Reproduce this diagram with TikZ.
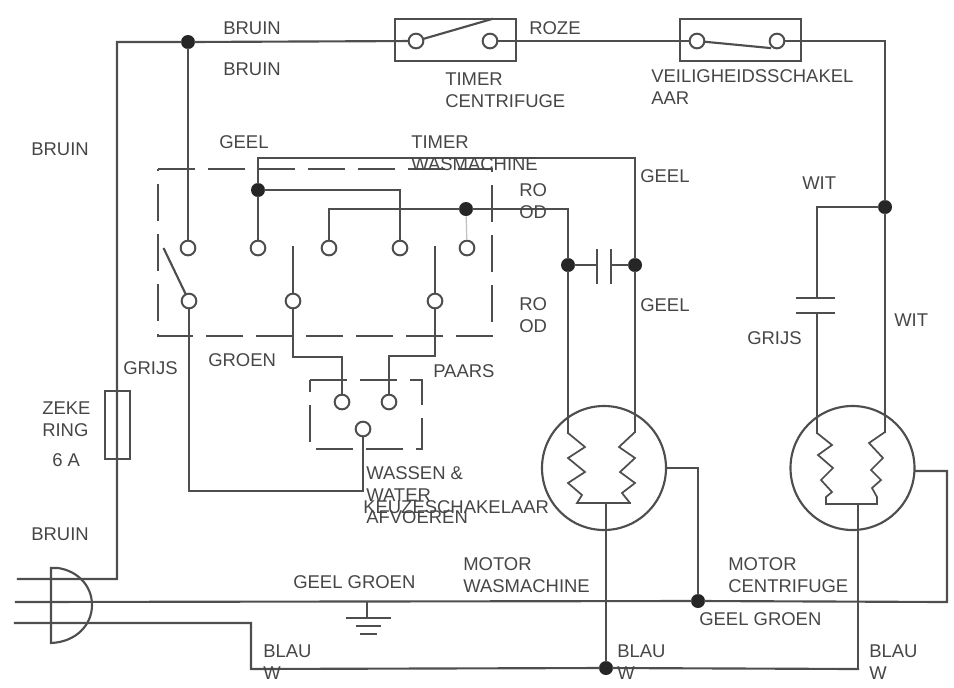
\documentclass[tikz,border=0pt]{standalone}
\usepackage{fontspec}
\setmainfont{Liberation Sans}
\usetikzlibrary{positioning}

\definecolor{wirecol}{RGB}{78,78,78}
\definecolor{labelcol}{RGB}{70,70,70}

\tikzset{
	wire/.style={draw=wirecol,line width=1.6pt,line cap=rect},
	dashbox/.style={draw=wirecol,line width=1.6pt,dash pattern=on 27.75pt off 9.75pt},
	term/.style={circle,draw=wirecol,line width=1.5pt,inner sep=0pt,minimum size=11pt},
	dot/.style={circle,fill=black!85,inner sep=0pt,minimum size=10.5pt},
	swbox/.style={rectangle,draw=wirecol,line width=1.6pt,inner sep=0pt,minimum width=91pt,minimum height=31.5pt},
	motor/.style={circle,draw=wirecol,line width=1.6pt,inner sep=0pt,minimum size=93pt},
	lab/.style={anchor=west,inner sep=0pt,text=labelcol,font=\fontsize{13.85}{16.5}\selectfont,align=left}
}

\begin{document}
\begin{tikzpicture}[x=0.75pt,y=-0.75pt]
		\useasboundingbox (0,0) rectangle (954,687);
		
		% boxes at the top
		\node[swbox] (timerbox) at (455.5,40) {};
		\node[swbox] (safebox) at (740.5,40) {};
		\node[term] (t1) at (416,41) {};
		\node[term] (t2) at (490,41) {};
		\node[term] (s1) at (697,41) {};
		\node[term] (s2) at (777,41) {};
		
		% joints
		\node[dot] (dtop) at (188,42) {};
		\node[dot] (dgeel) at (258,190) {};
		\node[dot] (drood) at (466,209) {};
		\node[dot] (dcapl) at (568,265) {};
		\node[dot] (dcapr) at (635,265) {};
		\node[dot] (dwit) at (885,207) {};
		\node[dot] (dearth) at (698,601) {};
		\node[dot] (dblauw) at (606,668) {};
		
		% timer contacts
		\node[term] (a) at (188,248) {};
		\node[term] (b) at (258,248) {};
		\node[term] (c) at (329,248) {};
		\node[term] (d) at (400,248) {};
		\node[term] (e) at (467,248) {};
		\node[term] (f) at (189,301) {};
		\node[term] (g) at (293,301) {};
		\node[term] (h) at (435,301) {};
		
		% selector contacts
		\node[term] (k1) at (342,402) {};
		\node[term] (k2) at (389,402) {};
		\node[term] (k3) at (363,429) {};
		
		\node[motor] (m1) at (604,468) {};
		\node[motor] (m2) at (852.5,468) {};
		\node[draw=wirecol,line width=1.5pt,inner sep=0pt,minimum width=18.5pt,minimum height=51pt] (fuse) at (117.5,425) {};
		
		% corners and free ends
		\coordinate (tl) at (117,42);
		\coordinate (lb) at (117,579);
		\coordinate (tr) at (885,41);
		\coordinate (m2tr) at (885,432);
		\coordinate (capw) at (817,207);
		\coordinate (capa) at (817,298);
		\coordinate (capb) at (817,313);
		\coordinate (m2tl) at (817,433);
		\coordinate (m1tl) at (568,433);
		\coordinate (m1tr) at (635,432);
		\coordinate (m1bl) at (577,503);
		\coordinate (m1br) at (630,503);
		\coordinate (m1bm) at (606,503);
		\coordinate (m2bl) at (826,504);
		\coordinate (m2br) at (877,504);
		\coordinate (m2bm) at (858,504);
		\coordinate (geelt) at (258,158);
		\coordinate (geelr) at (635,158);
		\coordinate (roodr) at (568,209);
		\coordinate (p1) at (18,579);
		\coordinate (p2) at (16,602);
		\coordinate (p3) at (15,623);
		\coordinate (p3b) at (251,623);
		\coordinate (blauwl) at (251,669);
		\coordinate (blauwr) at (858,669);
		\coordinate (earthr) at (947,602);
		\coordinate (m2lead) at (947,471);
		\coordinate (gnd) at (367,602);
		\coordinate (gnda) at (367,618);
		\coordinate (arma) at (164,249);
		\coordinate (armg) at (293,247);
		\coordinate (armh) at (435,247);
		\coordinate (armt) at (492,19);
		\coordinate (arms) at (770,48);
		\coordinate (capl) at (597,265);
		\coordinate (capr) at (611,265);
		\coordinate (kjoin) at (363,491);
		\coordinate (k1c) at (342,357);
		\coordinate (k2c) at (389,356);
		
		% mains and top line
		\draw[wire] (p1) -- (lb) -- (tl) -- (dtop) -- (t1);
		\draw[wire] (t2) -- (s1);
		\draw[wire] (s2) -- (tr) -- (dwit) -- (m2tr);
		\draw[wire] (t1) -- (armt);
		\draw[wire] (s1) -- (arms);
		\draw[wire] (dwit) -- (capw) -- (capa);
		\draw[wire] (capb) -- (m2tl);
		\draw[wire] (797,298) -- (834,298);
		\draw[wire] (797,313) -- (834,313);
		
		% timer wiring
		\draw[wire] (dtop) -- (a);
		\draw[wire] (b) -- (dgeel) -- (geelt) -- (geelr) -- (dcapr) -- (m1tr);
		\draw[wire] (dgeel) -| (d);
		\draw[wire] (c) |- (drood) -- (roodr) -- (dcapl) -- (m1tl);
		\draw[black!25,line width=0.9pt] (drood) -- (e);
		\draw[wire] (arma) -- (f);
		\draw[wire] (g) -- (armg);
		\draw[wire] (h) -- (armh);
		\draw[wire] (dcapl) -- (capl);
		\draw[wire] (dcapr) -- (capr);
		\draw[wire] (597,250) -- (597,283);
		\draw[wire] (611,250) -- (611,283);
		
		% selector wiring
		\draw[wire] (f) |- (kjoin) -- (k3);
		\draw[wire] (g) |- (k1c) -- (k1);
		\draw[wire] (h) |- (k2c) -- (k2);
		
		\draw[dashbox] (158,169) -- (492,169) -- (492,336) -- (158,336) -- cycle;
		\draw[dashbox] (310,380) -- (422,380) -- (422,449) -- (310,449) -- cycle;
		
		% motor coils
		\draw[wire,line width=1.3pt] (m1tl) -- (585,447) -- (568,458) -- (585,472) -- (568,483) -- (582,495) -- (m1bl) -- (m1br);
		\draw[wire,line width=1.3pt] (m1tr) -- (619,447) -- (635,458) -- (620,472) -- (635,483) -- (622,493) -- (m1br);
		\draw[wire,line width=1.3pt] (m2tl) -- (832,445) -- (818,455) -- (833,468) -- (821,480) -- (832,492) -- (826,497) -- (m2bl) -- (m2br);
		\draw[wire,line width=1.3pt] (m2tr) -- (869,443) -- (883,458) -- (871,470) -- (881,480) -- (872,488) -- (877,497) -- (m2br);
		\draw[wire] (m1bm) -- (dblauw);
		\draw[wire] (m2bm) -- (blauwr);
		\draw[wire] (m1.east) -| (dearth);
		\draw[wire] (m2lead -| m2.east) -- (m2lead) -- (earthr) -- (dearth);
		\draw[wire] (dearth) -- (p2);
		\draw[wire] (p3) -- (p3b) -- (blauwl) -- (dblauw) -- (blauwr);
		
		% plug and earth
		\draw[wire] (51,568) -- (58,568) .. controls (78,571) and (92,586) .. (92,605) .. controls (92,625) and (76,642) .. (51,643) -- cycle;
		\draw[wire] (gnd) -- (gnda);
		\draw[wire] (347,618) -- (390,618);
		\draw[wire] (357,626) -- (380,626);
		\draw[wire] (361,634) -- (376,634);
		
		% labels
		\node[lab] (lbruina) at (223,28) {BRUIN};
		\node[lab] (lbruinb) at (223,69) {BRUIN};
		\node[lab] (lbruinc) at (31,149) {BRUIN};
		\node[lab] (lbruind) at (31,534) {BRUIN};
		\node[lab] (lroze) at (529,28) {ROZE};
		\node[lab] (ltimerc) at (445,90) {TIMER\\CENTRIFUGE};
		\node[lab] (lveilig) at (651,87) {VEILIGHEIDSSCHAKEL\\AAR};
		\node[lab] (lgeela) at (219,142) {GEEL};
		\node[lab] (ltimerw) at (411,153) {TIMER\\WASMACHINE};
		\node[lab] (lgeelb) at (640,176) {GEEL};
		\node[lab] (lgeelc) at (640,305) {GEEL};
		\node[lab] (lrooda) at (519,201) {RO\\OD};
		\node[lab] (lroodb) at (519,315) {RO\\OD};
		\node[lab] (lwita) at (802,183) {WIT};
		\node[lab] (lwitb) at (894,320) {WIT};
		\node[lab] (lgrijsa) at (747,338) {GRIJS};
		\node[lab] (lgrijsb) at (123,368) {GRIJS};
		\node[lab] (lgroen) at (208,360) {GROEN};
		\node[lab] (lpaars) at (433,371) {PAARS};
		\node[lab] (lzeke) at (42,419) {ZEKE\\RING};
		\node[lab] (lamp) at (52,460) {6 A};
		\node[lab] (lwassen) at (366,495) {WASSEN \&\\WATER\\AFVOEREN};
		\node[lab] (lkeuze) at (363,507) {KEUZESCHAKELAAR};
		\node[lab] (lgga) at (293,582) {GEEL GROEN};
		\node[lab] (lggb) at (699,619) {GEEL GROEN};
		\node[lab] (lmotora) at (463,575) {MOTOR\\WASMACHINE};
		\node[lab] (lmotorb) at (728,575) {MOTOR\\CENTRIFUGE};
		\node[lab] (lblauwa) at (263,662) {BLAU\\W};
		\node[lab] (lblauwb) at (617,662) {BLAU\\W};
		\node[lab] (lblauwc) at (869,662) {BLAU\\W};
\end{tikzpicture}
\end{document}
